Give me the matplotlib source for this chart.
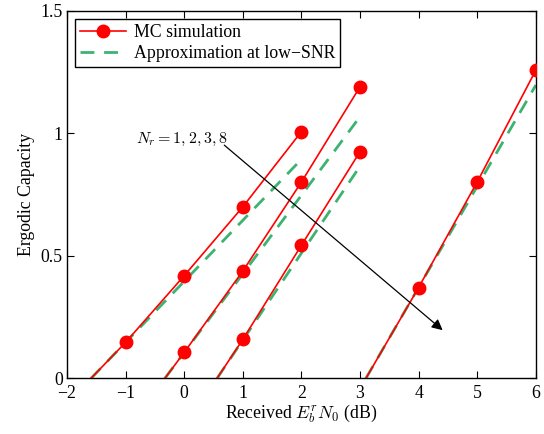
import matplotlib
matplotlib.use("Agg")
import matplotlib.pyplot as plt

plt.rcParams['font.family'] = ['Liberation Serif', 'DejaVu Serif']
plt.rcParams['mathtext.fontset'] = 'cm'
plt.rcParams['font.size'] = 12.8

# Data
nr_labels = ["1", "2", "3", "8"]
zero_snr = [-1.59, -0.33, 0.56, 3.10]          # SNR (dB) where capacity -> 0
mc_snr = [[-1, 0, 1, 2], [0, 1, 2, 3], [1, 2, 3], [4, 5, 6]]
mc_cap = [[0.147, 0.419, 0.700, 1.007],
          [0.106, 0.438, 0.801, 1.190],
          [0.159, 0.543, 0.925],
          [0.371, 0.802, 1.258]]
approx_end_snr = [2, 3, 3, 6]
approx_end_cap = [0.894, 1.068, 0.866, 1.197]

xticks = [-2, -1, 0, 1, 2, 3, 4, 5, 6]
yticks = [0, 0.5, 1, 1.5]
ytick_labels = ["0", "0.5", "1", "1.5"]

fig = plt.figure(figsize=(5.44, 4.34), dpi=100)
ax = fig.add_axes([0.123, 0.128, 0.862, 0.847])

red = '#ff0000'
green = '#3cb371'

for i in range(len(mc_snr)):
    xs = [zero_snr[i]] + mc_snr[i]
    ys = [0.0] + mc_cap[i]
    ax.plot(xs, ys, color=red, lw=1.2, marker='o', ms=9,
            markevery=list(range(1, len(xs))), zorder=3,
            label='MC simulation' if i == 0 else None)
    ax.plot([zero_snr[i], approx_end_snr[i]], [0.0, approx_end_cap[i]],
            color=green, lw=2.0, dashes=(5, 3.5), zorder=2,
            label='Approximation at low\u2212SNR' if i == 0 else None)

ax.set_xlim(-2, 6)
ax.set_ylim(0, 1.5)
ax.set_xticks(xticks)
ax.set_xticklabels([("\u2212%d" % -t) if t < 0 else "%d" % t for t in xticks])
ax.set_yticks(yticks)
ax.set_yticklabels(ytick_labels)
ax.tick_params(direction='in', top=True, right=True, length=5, width=0.8)
ax.tick_params(axis='x', pad=4.5)
ax.tick_params(axis='y', pad=3)
for s in ax.spines.values():
    s.set_linewidth(1.0)

ax.set_xlabel(r'Received $E_b^rN_0$ (dB)', labelpad=1)
ax.set_ylabel('Ergodic Capacity', labelpad=4)

ax.text(-0.82, 0.977, r'$N_r = 1,2,3,8$', ha='left', va='center', fontsize=11.5)
ax.annotate('', xy=(4.41, 0.197), xytext=(0.685, 0.952),
            arrowprops=dict(arrowstyle='-|>', color='black', lw=0.9,
                            mutation_scale=16, shrinkA=0, shrinkB=0))

leg = ax.legend(loc='upper left', fancybox=False, edgecolor='black',
                framealpha=1, borderpad=0.3, handlelength=2.6,
                handletextpad=0.4, labelspacing=0.2, borderaxespad=0.45)
leg.get_frame().set_linewidth(1.0)

fig.savefig('out.png', dpi=100)
